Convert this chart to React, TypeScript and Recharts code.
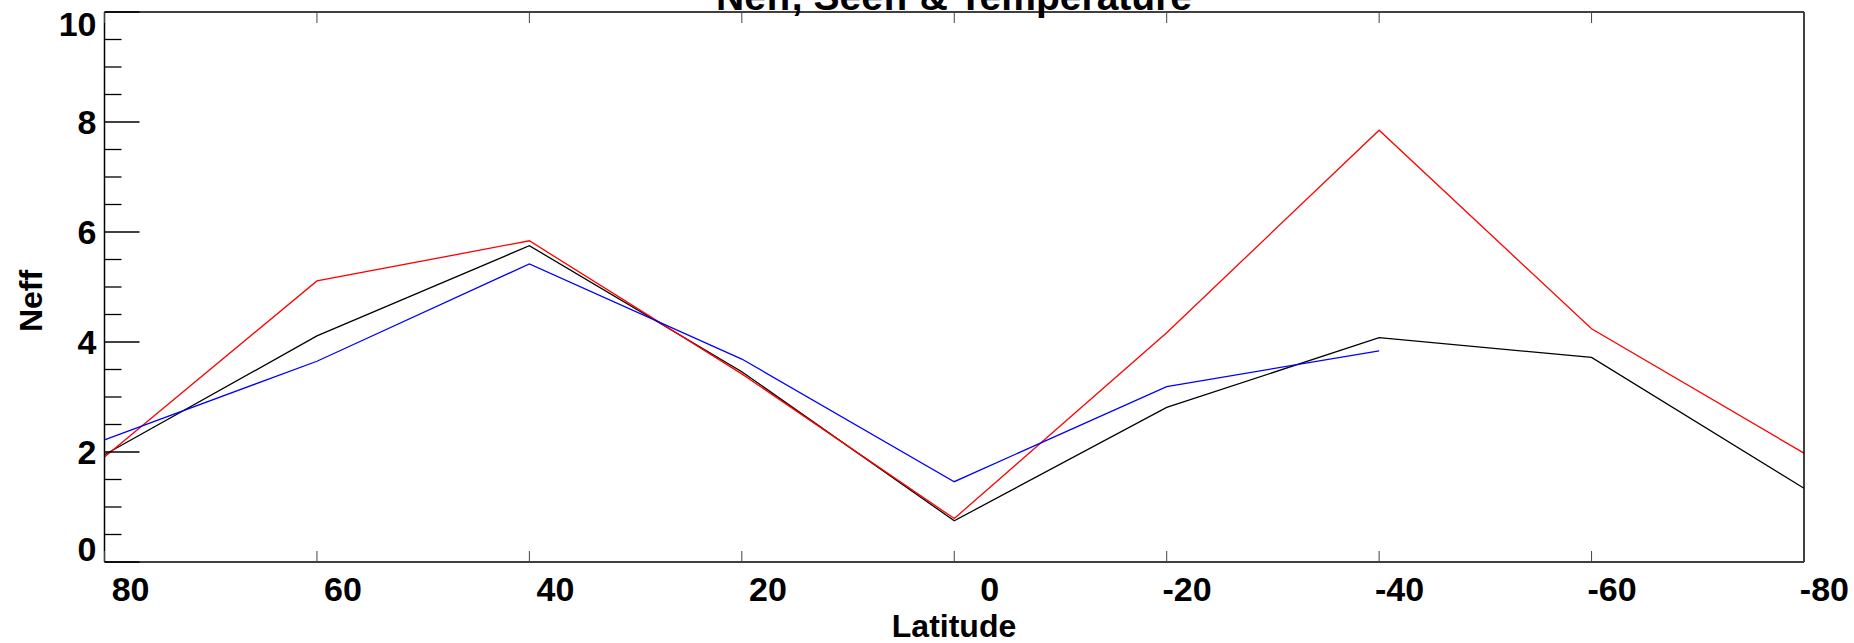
import { Line, LineChart, XAxis, YAxis } from "recharts";

// latitude of each sample, left to right
const latitudes = [80, 60, 40, 20, 0, -20, -40, -60, -80];

// Neff per latitude band
const neffBlack = [1.95, 4.11, 5.75, 3.46, 0.75, 2.81, 4.08, 3.72, 1.34];
const neffRed = [1.91, 5.11, 5.84, 3.42, 0.79, 4.17, 7.85, 4.24, 1.98];
const neffBlue = [2.22, 3.65, 5.42, 3.69, 1.46, 3.19, 3.84, null, null];

const xTicks = [80, 60, 40, 20, 0, -20, -40, -60, -80];
const yTicks = [0, 0.5, 1, 1.5, 2, 2.5, 3, 3.5, 4, 4.5, 5, 5.5, 6, 6.5, 7, 7.5, 8, 8.5, 9, 9.5, 10];
const yLabels = [0, 2, 4, 6, 8, 10];

const data = latitudes.map((lat, i) => ({
	lat,
	black: neffBlack[i],
	red: neffRed[i],
	blue: neffBlue[i],
}));

const FONT = "'Liberation Sans', Arial, Helvetica, sans-serif";
const W = 1854;
const H = 643;
// axes are 1px thick, so plot box ends up at x 104.5..1804, y 12..562
const margin = { top: 11, right: 49, bottom: 80, left: 103.5 };

const LeftTick = (props: any) => {
	const { x, y, payload } = props;
	const v = payload.value;
	const major = yLabels.includes(v);
	let dy = 12;
	if (v === 10) dy = 24;
	if (v === 0) dy = -1;
	return (
		<g>
			<line x1={x} x2={x + (major ? 35 : 17)} y1={y} y2={y} stroke="#000" strokeWidth={1.3} />
			{major && (
				<text x={x - 8} y={y + dy} textAnchor="end" fontFamily={FONT} fontWeight="bold" fontSize={34} fill="#000">
					{v}
				</text>
			)}
		</g>
	);
};

const RightTick = (props: any) => {
	const { x, y, payload } = props;
	const major = yLabels.includes(payload.value);
	return <line x1={x} x2={x - (major ? 35 : 17)} y1={y} y2={y} stroke="#000" strokeWidth={1.3} />;
};

const BottomTick = (props: any) => {
	const { x, y, payload } = props;
	return (
		<g>
			<line x1={x} x2={x} y1={y} y2={y - 11} stroke="#444" strokeWidth={1} />
			<text x={x + 45} y={y + 39} textAnchor="end" fontFamily={FONT} fontWeight="bold" fontSize={34} fill="#000">
				{payload.value}
			</text>
		</g>
	);
};

const TopTick = (props: any) => {
	const { x, y } = props;
	return <line x1={x} x2={x} y1={y} y2={y + 11} stroke="#444" strokeWidth={1} />;
};

export default function App() {
	return (
		<div style={{ position: "absolute", left: 0, top: 0, width: W, height: H, background: "#fff" }}>
			<LineChart width={W} height={H} data={data} margin={margin}>
				<XAxis
					xAxisId="bottom"
					dataKey="lat"
					type="number"
					domain={[-80, 80]}
					reversed
					ticks={xTicks}
					height={1}
					tickSize={0}
					tickMargin={0}
					tickLine={false}
					axisLine={{ stroke: "#000", strokeWidth: 1.5 }}
					tick={<BottomTick />}
					interval={0}
				/>
				<XAxis
					xAxisId="top"
					orientation="top"
					dataKey="lat"
					type="number"
					domain={[-80, 80]}
					reversed
					ticks={xTicks}
					height={1}
					tickSize={0}
					tickMargin={0}
					tickLine={false}
					axisLine={{ stroke: "#000", strokeWidth: 1.5 }}
					tick={<TopTick />}
					interval={0}
				/>
				<YAxis
					yAxisId="left"
					type="number"
					domain={[0, 10]}
					ticks={yTicks}
					width={1}
					tickSize={0}
					tickMargin={0}
					tickLine={false}
					axisLine={{ stroke: "#000", strokeWidth: 1.5 }}
					tick={<LeftTick />}
					interval={0}
				/>
				<YAxis
					yAxisId="right"
					orientation="right"
					type="number"
					domain={[0, 10]}
					ticks={yTicks}
					width={1}
					tickSize={0}
					tickMargin={0}
					tickLine={false}
					axisLine={{ stroke: "#000", strokeWidth: 1.5 }}
					tick={<RightTick />}
					interval={0}
				/>
				<Line xAxisId="bottom" yAxisId="left" type="linear" dataKey="black" stroke="#000000" strokeWidth={1.3} dot={false} isAnimationActive={false} />
				<Line xAxisId="bottom" yAxisId="left" type="linear" dataKey="red" stroke="#ff0000" strokeWidth={1.3} dot={false} isAnimationActive={false} />
				<Line xAxisId="bottom" yAxisId="left" type="linear" dataKey="blue" stroke="#0000ff" strokeWidth={1.3} dot={false} isAnimationActive={false} connectNulls={false} />
				<text x={954} y={10} textAnchor="middle" fontFamily={FONT} fontWeight="bold" fontSize={39} fill="#000">
					Neff, Seeff &amp; Temperature
				</text>
				<text x={954} y={637} textAnchor="middle" fontFamily={FONT} fontWeight="bold" fontSize={32} fill="#000">
					Latitude
				</text>
				<text x={42} y={301} textAnchor="middle" fontFamily={FONT} fontWeight="bold" fontSize={32} fill="#000" transform="rotate(-90, 42, 301)">
					Neff
				</text>
			</LineChart>
		</div>
	);
}
